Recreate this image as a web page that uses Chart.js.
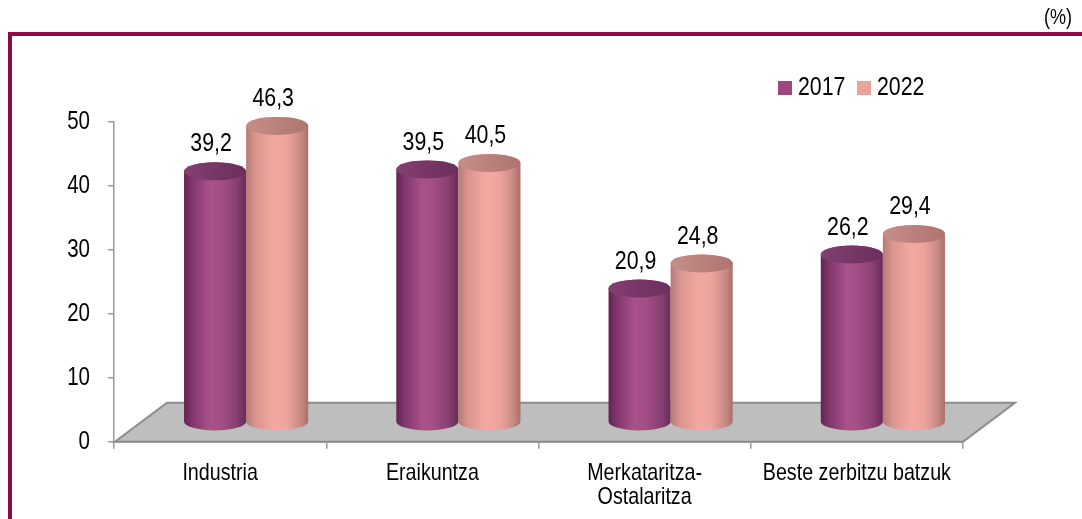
<!DOCTYPE html>
<html><head><meta charset="utf-8">
<script src="https://cdn.jsdelivr.net/npm/chart.js@4/dist/chart.umd.min.js"></script>
<style>html,body{margin:0;padding:0;background:#fff;overflow:hidden}#wrap{position:relative;width:1082px;height:519px}</style>
</head><body><div id="wrap"><canvas id="c" width="1082" height="519"></canvas></div>
<script>
const categories = ['Industria', 'Eraikuntza', ['Merkataritza-', 'Ostalaritza'], 'Beste zerbitzu batzuk'];
const seriesNames = ['2017', '2022'];
const values2017 = [39.2, 39.5, 20.9, 26.2];
const values2022 = [46.3, 40.5, 24.8, 29.4];
const yTicks = [0, 10, 20, 30, 40, 50];
const unitLabel = '(%)';

const FONT = "'Liberation Sans', Arial, sans-serif";
const FRAME = '#8C0A48';
const AXIS = '#9A9A9A';
const DX = 52, DY = 39;           // floor depth offset
const RY = 9;                     // ellipse half-height
const NARROW = 0.82;              // horizontal condensing of text (Arial Narrow look)

// Render all canvas text horizontally condensed, keeping measurement consistent.
(function () {
  const P = CanvasRenderingContext2D.prototype;
  const fill = P.fillText, measure = P.measureText;
  P.fillText = function (t, x, y, w) {
    this.save();
    this.translate(x, y);
    this.scale(NARROW, 1);
    if (w !== undefined) fill.call(this, t, 0, 0, w / NARROW); else fill.call(this, t, 0, 0);
    this.restore();
  };
  P.measureText = function (t) {
    const m = measure.call(this, t);
    return {
      width: m.width * NARROW,
      actualBoundingBoxAscent: m.actualBoundingBoxAscent,
      actualBoundingBoxDescent: m.actualBoundingBoxDescent,
      actualBoundingBoxLeft: m.actualBoundingBoxLeft * NARROW,
      actualBoundingBoxRight: m.actualBoundingBoxRight * NARROW,
      fontBoundingBoxAscent: m.fontBoundingBoxAscent,
      fontBoundingBoxDescent: m.fontBoundingBoxDescent
    };
  };
})();

const palettes = [
  { legend: '#A0467F',
    body: [[0, '#62234F'], [0.12, '#7E356A'], [0.42, '#A9528A'], [0.6, '#A44E86'], [0.85, '#873F71'], [1, '#6A2A59']],
    top: ['#82406F', '#6C2E5D'] },
  { legend: '#E8A39B',
    body: [[0, '#B47A75'], [0.14, '#D8948D'], [0.45, '#F3A9A2'], [0.66, '#EDA49D'], [0.88, '#C98A84'], [1, '#A96F6A']],
    top: ['#C58E88', '#AE7570'] }
];

function cylinder(ctx, cx, top, bot, rx, ry, pal) {
  const g = ctx.createLinearGradient(cx - rx, 0, cx + rx, 0);
  pal.body.forEach(([o, c]) => g.addColorStop(o, c));
  ctx.beginPath();
  ctx.moveTo(cx - rx, top);
  ctx.lineTo(cx - rx, bot);
  ctx.ellipse(cx, bot, rx, ry, 0, Math.PI, 0, true);
  ctx.lineTo(cx + rx, top);
  ctx.ellipse(cx, top, rx, ry, 0, 0, Math.PI, true);
  ctx.closePath();
  ctx.fillStyle = g;
  ctx.fill();
  const gt = ctx.createLinearGradient(cx - rx, top, cx + rx, top);
  gt.addColorStop(0, pal.top[0]);
  gt.addColorStop(1, pal.top[1]);
  ctx.beginPath();
  ctx.ellipse(cx, top, rx, ry, 0, 0, Math.PI * 2);
  ctx.fillStyle = gt;
  ctx.fill();
}

const decor = {
  id: 'decor',
  beforeDraw(chart) {
    const ctx = chart.ctx;
    ctx.save();
    ctx.fillStyle = '#fff';
    ctx.fillRect(0, 0, chart.width, chart.height);
    ctx.fillStyle = FRAME;
    ctx.fillRect(8, 32, chart.width - 8, 4);
    ctx.fillRect(8, 32, 4, chart.height - 32);
    ctx.fillStyle = '#000';
    ctx.font = '22px ' + FONT;
    ctx.textAlign = 'right';
    ctx.textBaseline = 'middle';
    ctx.fillText(unitLabel, 1072, 18);
    ctx.restore();
  },
  beforeDatasetsDraw(chart) {
    const ctx = chart.ctx, xs = chart.scales.x, ys = chart.scales.y;
    const y0 = ys.getPixelForValue(0);
    ctx.save();
    ctx.beginPath();
    ctx.moveTo(xs.left + 1, y0);
    ctx.lineTo(xs.right, y0);
    ctx.lineTo(xs.right + DX, y0 - DY);
    ctx.lineTo(xs.left + 1 + DX, y0 - DY);
    ctx.closePath();
    ctx.fillStyle = '#BEBEBE';
    ctx.fill();
    ctx.strokeStyle = '#8C8C8C';
    ctx.lineWidth = 2;
    ctx.stroke();
    ctx.restore();
  },
  afterDatasetsDraw(chart) {
    const ctx = chart.ctx;
    ctx.save();
    const metas = chart.data.datasets.map((d, i) => chart.getDatasetMeta(i));
    const n = chart.data.labels.length;
    for (let j = 0; j < n; j++) {
      metas.forEach((m, i) => {
        const el = m.data[j];
        const cx = el.x + DX / 2, top = el.y - DY / 2, bot = el.base - DY / 2;
        cylinder(ctx, cx, top, bot, el.width / 2, RY, palettes[i]);
      });
    }
    ctx.fillStyle = '#000';
    ctx.font = '26px ' + FONT;
    ctx.textAlign = 'center';
    ctx.textBaseline = 'middle';
    metas.forEach((m, i) => {
      m.data.forEach((el, j) => {
        const v = chart.data.datasets[i].data[j];
        ctx.fillText(v.toFixed(1).replace('.', ','), el.x + DX / 2 - 4, el.y - DY / 2 - 27);
      });
    });
    ctx.restore();
  },
  afterDraw(chart) {
    const ctx = chart.ctx;
    ctx.save();
    ctx.font = '26px ' + FONT;
    ctx.textBaseline = 'middle';
    ctx.textAlign = 'left';
    const pos = [778, 857];
    chart.data.datasets.forEach((d, i) => {
      ctx.fillStyle = palettes[i].legend;
      ctx.fillRect(pos[i], 81, 14, 14);
      ctx.fillStyle = '#000';
      ctx.fillText(d.label, pos[i] + 20, 88);
    });
    ctx.restore();
  }
};

new Chart(document.getElementById('c'), {
  type: 'bar',
  data: {
    labels: categories,
    datasets: [
      { label: seriesNames[0], data: values2017, backgroundColor: 'rgba(0,0,0,0)', borderWidth: 0 },
      { label: seriesNames[1], data: values2022, backgroundColor: 'rgba(0,0,0,0)', borderWidth: 0 }
    ]
  },
  options: {
    responsive: false,
    animation: false,
    devicePixelRatio: 1,
    layout: { padding: { left: 0, top: 121.7, right: 119, bottom: 0 } },
    datasets: { bar: { categoryPercentage: 0.585, barPercentage: 1 } },
    plugins: { legend: { display: false }, tooltip: { enabled: false } },
    scales: {
      x: {
        grid: { offset: true, drawOnChartArea: false, tickLength: 7, color: AXIS, lineWidth: 1.5 },
        border: { color: AXIS, width: 1.5 },
        ticks: { color: '#000', font: { family: FONT, size: 24, lineHeight: 1 }, padding: 13, maxRotation: 0, autoSkip: false },
        afterFit(s) { s.height = 519 - 441.7; }
      },
      y: {
        min: 0, max: 50,
        afterBuildTicks(s) { s.ticks = yTicks.map(v => ({ value: v })); },
        grid: { drawOnChartArea: false, tickLength: 6, color: AXIS, lineWidth: 1.5 },
        border: { color: AXIS, width: 1.5 },
        ticks: { color: '#000', font: { family: FONT, size: 25 }, padding: 18 },
        afterFit(s) { s.width = 114; }
      }
    }
  },
  plugins: [decor]
});
</script>
</body></html>
